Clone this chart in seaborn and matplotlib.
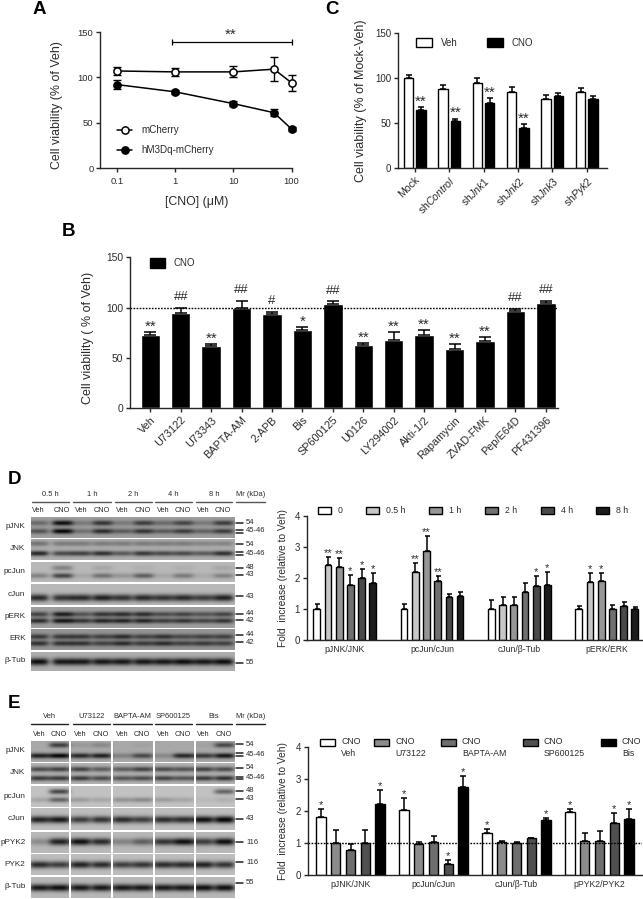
import numpy as np
import pandas as pd
import matplotlib
matplotlib.use('Agg')
import matplotlib.pyplot as plt
from matplotlib.patches import Rectangle
import seaborn as sns

W, H = 643, 899
TEXT = '#2b2b2b'

# Panel A
cno_doses = [0.1, 1, 10, 50, 100]
mcherry_vals = [107, 106, 106, 109, 94]
mcherry_err = [4, 4, 6, 13, 9]
hm3dq_vals = [92, 84, 71, 61, 43]
hm3dq_err = [5, 2, 3, 4, 2]

# Panel B
b_names = ['Veh', 'U73122', 'U73343', 'BAPTA-AM', '2-APB', 'Bis', 'SP600125', 'U0126',
           'LY294002', 'Akti-1/2', 'Rapamycin', 'ZVAD-FMK', 'Pep/E64D', 'PF431396']
b_vals = [73, 95, 62, 100, 94, 78, 104, 63, 68, 73, 59, 67, 97, 105]
b_err = [3, 5, 1.5, 7, 2, 3, 2.5, 2, 8, 5, 4.5, 3.5, 2, 2]
b_marks = ['**', '##', '**', '##', '#', '*', '##', '**', '**', '**', '**', '**', '##', '##']

# Panel C
c_names = ['Mock', 'sh$\\mathit{Control}$', 'sh$\\mathit{Jnk1}$', 'sh$\\mathit{Jnk2}$',
           'sh$\\mathit{Jnk3}$', 'sh$\\mathit{Pyk2}$']
c_veh = [100, 88, 95, 85, 77, 85]
c_veh_err = [3, 4, 5.5, 4.5, 4, 3.5]
c_cno = [64, 52, 72, 45, 80, 77]
c_cno_err = [3.5, 3, 6, 3.5, 3.5, 3.5]
c_cno_marks = ['**', '**', '**', '**', '', '']

# Panel D bars
d_groups = ['pJNK/JNK', 'pcJun/cJun', 'cJun/β-Tub', 'pERK/ERK']
d_times = ['0', '0.5 h', '1 h', '2 h', '4 h', '8 h']
d_colors = ['#ffffff', '#c8c8c8', '#969696', '#707070', '#4a4a4a', '#1c1c1c']
d_vals = [[1.0, 1.0, 1.02, 1.0],
          [2.42, 2.2, 1.12, 1.87],
          [2.36, 2.86, 1.14, 1.9],
          [1.76, 1.9, 1.55, 1.02],
          [2.0, 1.38, 1.74, 1.09],
          [1.85, 1.42, 1.79, 1.0]]
d_err = [[.15, .15, .27, .1],
         [.27, .28, .28, .3],
         [.28, .5, .24, .25],
         [.33, .17, .3, .12],
         [.3, .1, .32, .14],
         [.3, .14, .39, .08]]
d_marks = [['', '', '', ''],
           ['**', '**', '', '*'],
           ['**', '**', '', '*'],
           ['*', '**', '', ''],
           ['*', '', '*', ''],
           ['*', '', '*', '']]

# Panel E bars
e_groups = ['pJNK/JNK', 'pcJun/cJun', 'cJun/β-Tub', 'pPYK2/PYK2']
e_treat = ['Veh', 'U73122', 'BAPTA-AM', 'SP600125', 'Bis']
e_colors = ['#ffffff', '#8c8c8c', '#6e6e6e', '#505050', '#000000']
e_vals = [[1.82, 2.04, 1.32, 1.96],
          [1.0, .95, 1.02, 1.05],
          [.77, 1.02, .99, 1.06],
          [1.0, .35, 1.14, 1.62],
          [2.23, 2.76, 1.7, 1.74]]
e_err = [[.23, .36, .1, .09],
         [.4, .06, .05, .25],
         [.2, .2, .03, .3],
         [.4, .1, .02, .32],
         [.42, .33, .08, .33]]
e_marks = [['*', '*', '*', '*'],
           ['', '', '', ''],
           ['', '', '', ''],
           ['', '*', '', '*'],
           ['*', '*', '*', '*']]

# Western blots: (row label, background, [(band height in strip, lane darkness)])
d_blots = [
    ('pJNK', .62, [(.27, [.35, .95, .25, .7, .25, .65, .35, .6, .25, .65]),
                   (.67, [.5, 1, .3, .75, .45, .7, .45, .65, .4, .65])]),
    ('JNK', .68, [(.2, [.35, .3, .3, .3, .3, .3, .3, .3, .25, .25]),
                  (.68, [.8, .6, .65, .75, .5, .7, .6, .6, .5, .75])]),
    ('pcJun', .72, [(.28, [0, .3, 0, .1, 0, .05, 0, .05, 0, .1]),
                    (.68, [.3, .65, .1, .4, .2, .5, .1, .35, .08, .3])]),
    ('cJun', .72, [(.65, [.8, .75, .8, .85, .75, .8, .75, .8, .7, .85])]),
    ('pERK', .62, [(.33, [.6, .85, .5, .7, .75, .75, .55, .6, .5, .6]),
                   (.65, [.75, .9, .7, .8, .8, .8, .65, .7, .6, .7])]),
    ('ERK', .58, [(.35, [.65, .65, .65, .6, .75, .6, .7, .55, .6, .6]),
                  (.68, [.7, .7, .7, .6, .75, .65, .75, .6, .65, .6])]),
    ('β-Tub', .68, [(.5, [.95, .9, .9, .9, .9, .9, .9, .95, .9, .95])]),
]
e_blots = [
    ('pJNK', .66, [(.2, [0, .65, .1, .2, 0, .05, 0, 0, .05, .6]),
                   (.72, [.85, 1, .8, .85, .25, .6, .2, .8, .7, .9])]),
    ('JNK', .7, [(.28, [.6, .65, .65, .5, .5, .65, .6, .55, .65, .6]),
                 (.72, [.7, .7, .7, .6, .55, .6, .65, .55, .7, .75])]),
    ('pcJun', .76, [(.25, [0, .65, 0, 0, 0, 0, 0, 0, 0, .5]),
                    (.65, [.15, .5, .2, .15, .25, .3, .2, .15, .05, .1])]),
    ('cJun', .74, [(.52, [.85, .9, .7, .75, .8, .7, .8, .8, .95, 1])]),
    ('pPYK2', .72, [(.45, [.25, .85, .95, .8, .3, .5, .75, .95, .7, .95])]),
    ('PYK2', .74, [(.5, [.8, .7, .85, .8, .7, .75, .8, .8, .85, .75])]),
    ('β-Tub', .72, [(.5, [.9, .95, .9, .9, .9, .9, .9, .9, .95, .95])]),
]
d_heads = ['0.5 h', '1 h', '2 h', '4 h', '8 h']
e_heads = ['Veh', 'U73122', 'BAPTA-AM', 'SP600125', 'Bis']

sns.set_style('ticks')
plt.rcParams['font.family'] = ['Liberation Sans', 'DejaVu Sans']
plt.rcParams['mathtext.fontset'] = 'custom'
plt.rcParams['mathtext.rm'] = 'Liberation Sans'
plt.rcParams['mathtext.it'] = 'Liberation Sans:italic'
plt.rcParams['text.color'] = TEXT
plt.rcParams['axes.labelcolor'] = TEXT
plt.rcParams['xtick.labelcolor'] = TEXT
plt.rcParams['ytick.labelcolor'] = TEXT

fig = plt.figure(figsize=(W / 100, H / 100), dpi=100, facecolor='white')


def px_axes(left, top, right, bottom):
    return fig.add_axes([left / W, 1 - bottom / H, (right - left) / W, (bottom - top) / H])


def style(ax, ylim, yticks, size=7.0):
    ax.set_ylim(*ylim)
    ax.set_yticks(yticks)
    for s in ['top', 'right']:
        ax.spines[s].set_visible(False)
    for s in ['left', 'bottom']:
        ax.spines[s].set_linewidth(1.0)
    ax.tick_params(axis='y', length=3.2, width=1.0, labelsize=size, pad=1.5)
    ax.set_xlabel('')
    ax.set_ylabel('')
    ax.patch.set_alpha(0)


def bar_marks(ax, vals, errs, marks, size=11, lw=1.1, cap=2, star_off=0.9):
    # error bars and stars hang from the bars seaborn drew
    for cont, v_row, e_row, m_row in zip(ax.containers, vals, errs, marks):
        for rect, v, e, m in zip(cont, v_row, e_row, m_row):
            x = rect.get_x() + rect.get_width() / 2
            ax.errorbar(x, v, yerr=[[0], [e]], color='black', lw=lw, capsize=cap,
                        capthick=lw, zorder=1)
            if m:
                hash_mark = '#' in m
                ax.annotate(m, (x, v + e), xytext=(0, 5.2 if hash_mark else star_off),
                            textcoords='offset points', ha='center', va='baseline',
                            fontsize=size * 0.86 if hash_mark else size, color=TEXT)


def grouped_bars(ax, groups, hues, vals, colors, width, gap):
    rows = []
    for h, row in zip(hues, vals):
        for g, v in zip(groups, row):
            rows.append({'group': g, 'hue': h, 'value': v})
    sns.barplot(data=pd.DataFrame(rows), x='group', y='value', hue='hue', palette=colors,
                width=width, gap=gap, saturation=1, edgecolor='black', linewidth=1.0,
                errorbar=None, legend=False, ax=ax)


# Panel A
ax_a = px_axes(100, 32, 291.5, 168)
for vals, errs, face in [(mcherry_vals, mcherry_err, 'white'), (hm3dq_vals, hm3dq_err, 'black')]:
    ax_a.errorbar(cno_doses, vals, yerr=errs, color='black', lw=1.0, capsize=2.9, capthick=1.0,
                  ls='none', zorder=2, clip_on=False)
    sns.lineplot(x=cno_doses, y=vals, color='black', lw=1.1, marker='o', markersize=5.2,
                 markerfacecolor=face, markeredgecolor='black', markeredgewidth=1.1,
                 errorbar=None, ax=ax_a, zorder=3, clip_on=False)
ax_a.set_xscale('log')
ax_a.set_xlim(10 ** (-1 - 17 / 58), 100)
style(ax_a, (0, 150), [0, 50, 100, 150], size=6.8)
ax_a.set_xticks([0.1, 1, 10, 100], ['0.1', '1', '10', '100'])
ax_a.minorticks_off()
ax_a.tick_params(axis='x', length=3.2, width=1.0, labelsize=6.8, pad=3.5)
ax_a.plot([0.88, 100], [139, 139], color='black', lw=0.9, marker='|', ms=4.5, mew=0.9,
          clip_on=False)

# Panel B
ax_b = px_axes(130, 257.3, 558, 408.3)
sns.barplot(x=b_names, y=b_vals, color='black', saturation=1, width=0.64, errorbar=None, ax=ax_b)
ax_b.set_xlim(-0.668, 13.4)
style(ax_b, (0, 150), [0, 50, 100, 150], size=7.4)
bar_marks(ax_b, [b_vals], [b_err], [b_marks], cap=4.3)
ax_b.axhline(100, color='black', lw=1.0, ls=(0, (1.2, 1.0)), zorder=5)
ax_b.tick_params(axis='x', length=3.2, width=1.0, labelsize=7.8, pad=1.5)
plt.setp(ax_b.get_xticklabels(), rotation=45, ha='right', rotation_mode='anchor')

# Panel C
ax_c = px_axes(397.7, 33, 607, 168)
grouped_bars(ax_c, c_names, ['Veh', 'CNO'], [c_veh, c_cno], ['white', 'black'], 0.72, 0.25)
ax_c.set_xlim((397.7 - 414.7) / 34.4, (607 - 414.7) / 34.4)
style(ax_c, (0, 150), [0, 50, 100, 150])
bar_marks(ax_c, [c_veh, c_cno], [c_veh_err, c_cno_err], [[''] * 6, c_cno_marks], cap=2.2)
ax_c.tick_params(axis='x', length=3.2, width=1.0, labelsize=7.6, pad=1.5)
plt.setp(ax_c.get_xticklabels(), rotation=45, ha='right', rotation_mode='anchor')

# Panel D bars
ax_d = px_axes(306.7, 515.7, 641.7, 640.3)
grouped_bars(ax_d, d_groups, d_times, d_vals, d_colors, 0.77, 0.4)
ax_d.set_xlim(-0.436, 3.4)
style(ax_d, (0, 4), [0, 1, 2, 3, 4])
bar_marks(ax_d, d_vals, d_err, d_marks, size=8, cap=1.8, star_off=0.6)
ax_d.tick_params(axis='x', length=0, labelsize=6.2, pad=3.5)

# Panel E bars
ax_e = px_axes(307.7, 747, 641.7, 874.7)
grouped_bars(ax_e, e_groups, e_treat, e_vals, e_colors, 0.89, 0.37)
ax_e.set_xlim((307.7 - 350.5) / 83, (641.7 - 350.5) / 83)
style(ax_e, (0, 4), [0, 1, 2, 3, 4])
bar_marks(ax_e, e_vals, e_err, e_marks, size=8, cap=2.3, star_off=0.6)
ax_e.axhline(1, color='black', lw=1.0, ls=(0, (1.2, 1.0)), zorder=5)
ax_e.tick_params(axis='x', length=0, labelsize=6.2, pad=3.5)


def blot_strip(bg, bands, lanes, left, right, n_rows, height):
    # one grey strip as a fine grid; each band is a soft smear centred on its lane
    xs = np.arange(left, right, 0.5)
    ys = np.linspace(0, 1, n_rows)
    grid = np.full((n_rows, xs.size), float(bg))
    sigma = 3.7 if len(bands) == 1 else 2.7
    for y0, darkness in bands:
        for cx, d in zip(lanes, darkness):
            shape_x = np.exp(-((xs - cx) / 10.5) ** 4)
            shape_y = np.exp(-((ys - y0) / (sigma / height)) ** 2)
            grid -= (bg - 0.03) * d * np.outer(shape_y, shape_x)
    return np.clip(grid, 0, 1)


def draw_blots(blots, lanes, tops, bottoms):
    for (name, bg, bands), top, bot in zip(blots, tops, bottoms):
        ax = px_axes(30.5, top, 235, bot)
        n = int(round((bot - top) * 2))
        sns.heatmap(blot_strip(bg, bands, lanes, 30.5, 235, n, bot - top), vmin=0, vmax=1,
                    cmap='gray', cbar=False, xticklabels=False, yticklabels=False, ax=ax,
                    rasterized=True)
        over.text(25.5, (top + bot) / 2 - 0.5, name, ha='right', va='center', fontsize=5.9)


# full-figure layer in pixel coordinates for labels, legends and blot annotations
over = fig.add_axes([0, 0, 1, 1], zorder=10)
over.set_xlim(0, W)
over.set_ylim(H, 0)
over.axis('off')


def t(x, y, s, size=6.4, **kw):
    kw.setdefault('va', 'center')
    over.text(x, y, s, fontsize=size, **kw)


def box(x0, y0, x1, y1, color):
    over.add_patch(Rectangle((x0, y0), x1 - x0, y1 - y0, fc=color, ec='black', lw=1.0))


for s, x, y in [('A', 33, 10), ('C', 325, 9), ('B', 62, 232), ('D', 8, 479), ('E', 8, 703)]:
    t(x, y, s, size=13.5, fontweight='bold', color='black')

# axis titles
t(57, 105, 'Cell viability (% of Veh)', size=8.9, rotation=90, ha='center')
t(197, 202, '[CNO] (μM)', size=8.9, ha='center')
t(361, 101, 'Cell viability (% of Mock-Veh)', size=9, rotation=90, ha='center')
t(88, 338, 'Cell viability ( % of Veh)', size=9, rotation=90, ha='center')
t(283, 578, 'Fold  increase (relative to Veh)', size=7.3, rotation=90, ha='center')
t(283, 811, 'Fold  increase (relative to Veh)', size=7.3, rotation=90, ha='center')
t(231, 35, '**', size=11, ha='center')

# legend A
for y, face, label in [(130, 'white', 'mCherry'), (150, 'black', 'hM3Dq-mCherry')]:
    over.plot([117, 132], [y, y], color='black', lw=1.1)
    over.plot([124.5], [y], marker='o', ms=5.2, mfc=face, mec='black', mew=1.1)
    t(141, y, label, size=7.1)

# legends B, C
box(150, 258, 165, 268, 'black')
t(174, 263, 'CNO', size=7)
box(416, 38, 432, 47, 'white')
t(441, 42.5, 'Veh', size=7)
box(487, 38, 503, 47, 'black')
t(511, 42.5, 'CNO', size=7)

# legend D
d_leg_x = [318, 366, 429, 485, 541, 596]
for x, label, color in zip(d_leg_x, d_times, d_colors):
    box(x, 507, x + 13, 514, color)
    t(x + 20, 510.5, label, size=6.3)

# legend E
e_leg_x = [320, 374, 441, 523, 601]
for x, label, color in zip(e_leg_x, e_treat, e_colors):
    box(x, 739, x + 15, 746, color)
    t(x + 21, 742, 'CNO', size=6.3)
    t(x + 21, 753, label, size=6.3)

# blots D
d_lanes = [38, 62, 81, 102, 122, 143, 163, 183, 203, 223]
d_tops = [517, 539, 562, 584, 607, 629, 652]
d_bots = [538, 560, 582, 605, 628, 650, 671]
draw_blots(d_blots, d_lanes, d_tops, d_bots)
for (x0, x1), head in zip([(32, 69), (73, 111), (115, 152), (155, 192), (196, 232)], d_heads):
    over.plot([x0, x1], [502, 502], color='#555555', lw=1.0)
    t((x0 + x1) / 2, 495, head, size=5.4, ha='center')
over.plot([236, 265], [502, 502], color='#555555', lw=1.0)
t(250.5, 495, 'Mr (kDa)', size=5.4, ha='center')
for x, s in zip(d_lanes, ['Veh', 'CNO'] * 5):
    t(x, 510.5, s, size=5.3, ha='center')
for y, s in [(522.5, '54'), (531, '45-46'), (544, '54'), (553.5, '45-46'), (567.5, '48'),
             (575, '43'), (596, '43'), (613.5, '44'), (621, '42'), (635, '44'), (642, '42'),
             (662.5, '55')]:
    t(246, y, s, size=5.5)
for y in [522.5, 530, 532.5, 544, 552, 555, 567.5, 575, 596, 613.5, 620, 635, 642, 662.5]:
    over.plot([236, 243], [y, y], color='#222222', lw=1.1)

# blots E
e_lanes = [39, 59, 80, 101, 122, 142, 163, 183, 203, 224]
e_tops = [740.7, 763, 786, 808, 832, 854, 877]
e_bots = [761.7, 784, 807, 830, 853, 875, 898]
draw_blots(e_blots, e_lanes, e_tops, e_bots)
for x in [70, 111.5, 154, 195]:
    over.add_patch(Rectangle((x - 1, 740), 2, 158.5, fc='white', ec='none'))
for (x0, x1), head in zip([(31, 68), (73, 110), (113, 152), (155, 192), (196, 232)], e_heads):
    over.plot([x0, x1], [724, 724], color='#222222', lw=1.0)
    t((x0 + x1) / 2, 717, head, size=5.4, ha='center')
over.plot([236, 265], [724, 724], color='#222222', lw=1.0)
t(250.5, 716, 'Mr (kDa)', size=5.4, ha='center')
for x, s in zip(e_lanes, ['Veh', 'CNO'] * 5):
    t(x, 734, s, size=5.3, ha='center')
for y, s in [(744, '54'), (754, '45-46'), (767.5, '54'), (777.5, '45-46'), (791, '48'),
             (798.5, '43'), (819, '43'), (842, '116'), (862, '116'), (882.5, '55')]:
    t(246, y, s, size=5.5)
for y in [744, 752.5, 756, 767.5, 776.5, 778.5, 791, 798.5, 819, 842, 862, 882.5]:
    over.plot([236, 243], [y, y], color='#222222', lw=1.1)

over.set_xlim(0, W)
over.set_ylim(H, 0)
fig.savefig('out.png', dpi=100)
